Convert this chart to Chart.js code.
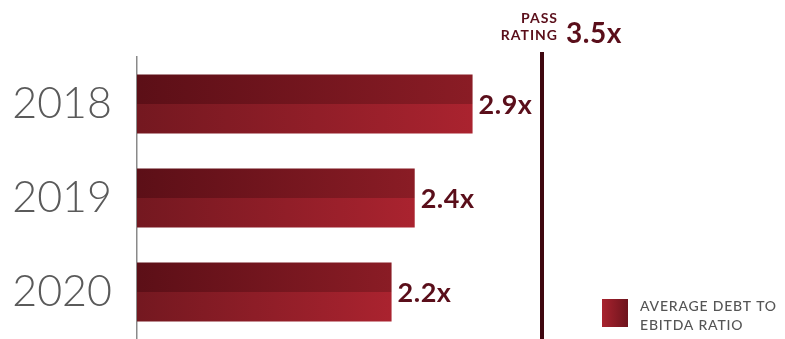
<!DOCTYPE html>
<html>
<head>
<meta charset="utf-8">
<script src="https://cdn.jsdelivr.net/npm/chart.js@4"></script>
<style>
  html, body { margin: 0; padding: 0; background: #fff; }
  #wrap { width: 785px; height: 339px; }
</style>
</head>
<body>
<div id="wrap"><canvas id="myChart" width="785" height="339"></canvas></div>
<script>
'use strict'
// data
let years = ['2018', '2019', '2020'];
let debtRatio = [2.9, 2.4, 2.2];
let passRating = 3.5;
let seriesLabel = ['AVERAGE DEBT TO', 'EBITDA RATIO'];
let passLabel = ['PASS', 'RATING'];

const ctx = document.getElementById('myChart');
const maroon = '#5a0e1a';

// horizontal gradient that runs the length of each bar
function barGradient(dark, light) {
  return function (context) {
    let chart = context.chart;
    let area = chart.chartArea;
    if (!area) return dark;
    let v = context.raw || 0;
    let xEnd = chart.scales.x.getPixelForValue(v);
    let g = chart.ctx.createLinearGradient(area.left, 0, xEnd, 0);
    g.addColorStop(0, dark);
    g.addColorStop(1, light);
    return g;
  };
}

let extras = {
  id: 'extras',
  afterDatasetsDraw(chart) {
    let c = chart.ctx;
    let xs = chart.scales.x;
    let ys = chart.scales.y;
    let area = chart.chartArea;
    c.save();

    // value labels
    c.fillStyle = maroon;
    c.font = 'bold 27px Lato, "Open Sans", sans-serif';
    c.letterSpacing = '0.5px';
    c.textBaseline = 'middle';
    c.textAlign = 'left';
    for (let i = 0; i < debtRatio.length; i++) {
      let x = xs.getPixelForValue(debtRatio[i]);
      let y = ys.getPixelForValue(i);
      c.fillText(debtRatio[i].toFixed(1) + 'x', x + 6, y + 1);
    }

    // pass rating line
    let px = xs.getPixelForValue(passRating);
    c.fillStyle = '#3f0710';
    c.fillRect(px - 2, area.top - 5, 4, chart.height - area.top + 5);

    // pass rating text
    c.fillStyle = maroon;
    c.font = 'bold 14px Lato, "Open Sans", sans-serif';
    c.letterSpacing = '1px';
    c.textAlign = 'right';
    c.textBaseline = 'alphabetic';
    c.fillText(passLabel[0], px + 16, 23);
    c.fillText(passLabel[1], px + 16, 40);
    c.font = 'bold 28px Lato, "Open Sans", sans-serif';
    c.letterSpacing = '0.5px';
    c.textAlign = 'left';
    c.fillText(passRating.toFixed(1) + 'x', px + 24, 43);

    // legend
    let lg = c.createLinearGradient(602, 0, 628, 0);
    lg.addColorStop(0, '#a8232e');
    lg.addColorStop(1, '#6e141d');
    c.fillStyle = lg;
    c.fillRect(602, 299, 26, 28);
    c.fillStyle = '#555';
    c.font = '500 14px Lato, "Open Sans", sans-serif';
    c.letterSpacing = '0.8px';
    c.fillText(seriesLabel[0], 640, 311);
    c.fillText(seriesLabel[1], 640, 330);
    c.restore();
  }
};

new Chart(ctx, {
  type: 'bar',
  data: {
    labels: years,
    datasets: [
      {
        label: seriesLabel.join(' '),
        data: debtRatio,
        backgroundColor: barGradient('#5c0f17', '#8a1c25'),
        borderWidth: 0
      },
      {
        label: seriesLabel.join(' '),
        data: debtRatio,
        backgroundColor: barGradient('#741820', '#aa232f'),
        borderWidth: 0
      }
    ]
  },
  options: {
    indexAxis: 'y',
    responsive: false,
    animation: false,
    layout: { padding: { top: 57, right: 0, bottom: 0, left: 0 } },
    datasets: {
      bar: { categoryPercentage: 0.63, barPercentage: 1 }
    },
    plugins: {
      legend: { display: false },
      tooltip: { enabled: false }
    },
    scales: {
      x: {
        display: false,
        min: 0,
        max: 5.6
      },
      y: {
        grid: { display: false, drawTicks: false },
        border: { display: true, color: '#8a8a8a', width: 1.5 },
        ticks: {
          color: '#5a5a5a',
          padding: 25,
          font: { family: 'Lato, "Open Sans", sans-serif', size: 43, weight: '300' }
        },
        afterFit(scale) {
          scale.width = 137;
          scale.paddingTop = 0;
          scale.paddingBottom = 0;
        }
      }
    }
  },
  plugins: [extras]
});
</script>
</body>
</html>
